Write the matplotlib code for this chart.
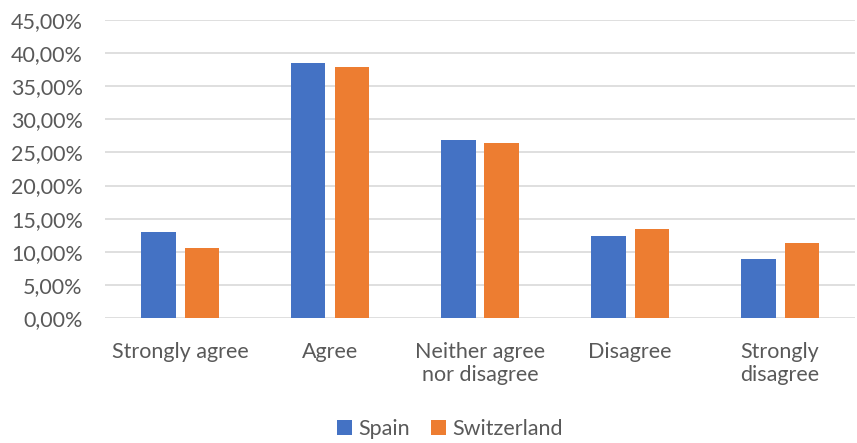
import matplotlib.pyplot as plt
import numpy as np
from matplotlib.ticker import FuncFormatter

categories = ["Strongly agree", "Agree", "Neither agree\nnor disagree", "Disagree", "Strongly\ndisagree"]
spain = [13.0, 38.5, 26.9, 12.4, 8.9]
switzerland = [10.6, 37.9, 26.4, 13.5, 11.4]

plt.rcParams['font.family'] = ['Lato', 'DejaVu Sans']
gris = '#595959'

fig = plt.figure(figsize=(8.57, 4.43), dpi=100)
ax = fig.add_axes([105/857, 1-318/443, 750/857, 298/443])

x = np.arange(len(categories))
w = 0.233
sep = 0.03
ax.bar(x - w/2 - sep, spain, w, color='#4472C4', label='Spain', zorder=3)
ax.bar(x + w/2 + sep, switzerland, w, color='#ED7D31', label='Switzerland', zorder=3)

ax.set_xlim(-0.5, len(categories) - 0.5)
ax.set_ylim(0, 45)
ax.set_yticks(np.arange(0, 46, 5))
ax.yaxis.set_major_formatter(FuncFormatter(lambda v, p: f"{v:.2f}%".replace('.', ',')))
ax.grid(axis='y', color='#d9d9d9', linewidth=1.2, zorder=0)
for s in ax.spines.values():
    s.set_visible(False)
ax.tick_params(length=0, labelsize=15.5, colors=gris)
ax.tick_params(axis='y', pad=16)
ax.set_xticks(x)
ax.set_xticklabels(categories, linespacing=1.2)
ax.tick_params(axis='x', pad=17)

fig.legend(loc='lower center', ncol=2, frameon=False, fontsize=15.5, labelcolor=gris,
           handlelength=0.7, handleheight=0.7, handletextpad=0.3, columnspacing=1.0,
           bbox_to_anchor=(0.525, -0.035))

fig.savefig('out.png', dpi=100)
